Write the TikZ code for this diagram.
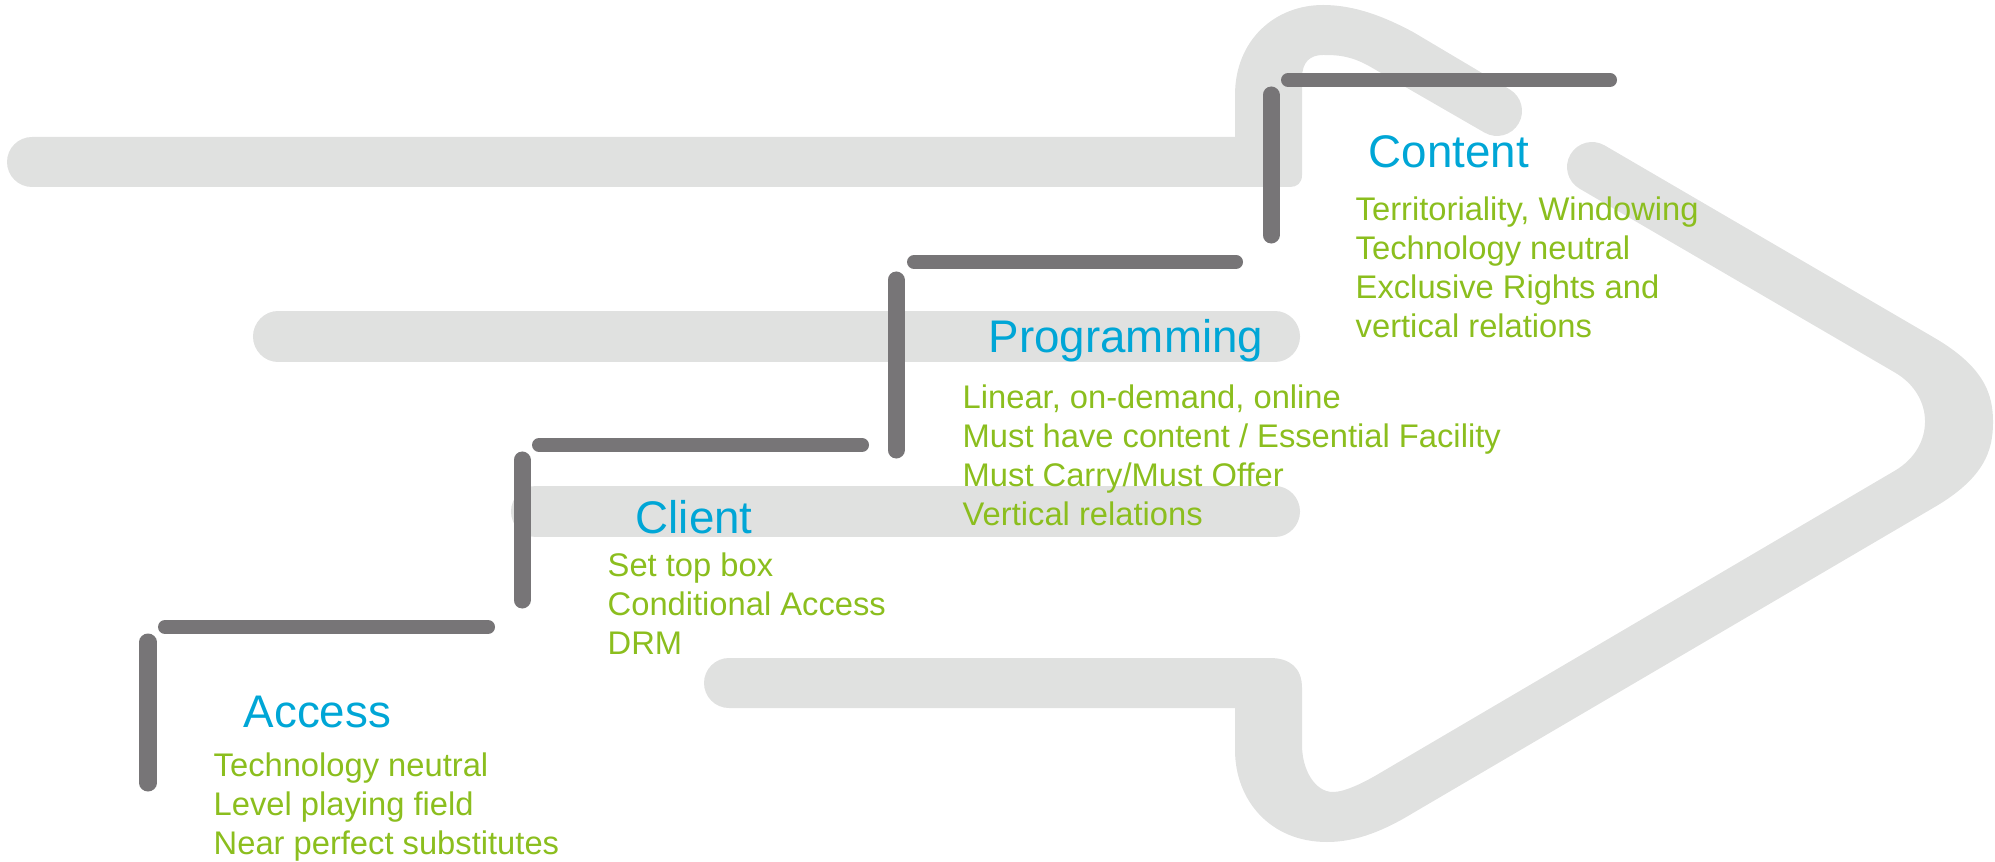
\documentclass[tikz,border=0pt]{standalone}
\usepackage{fontspec}
\setmainfont{Liberation Sans}
\definecolor{arrowgray}{RGB}{224,225,224}
\definecolor{stepgray}{RGB}{119,117,119}
\definecolor{titleblue}{RGB}{0,166,214}
\definecolor{itemgreen}{RGB}{139,190,30}

\begin{document}
\begin{tikzpicture}[x=0.01cm,y=-0.01cm,
  band/.style={fill=arrowgray},
  bar/.style={draw=arrowgray,line width=0.5cm,line cap=round},
  riser/.style={draw=stepgray,line width=0.17cm,line cap=round},
  tread/.style={draw=stepgray,line width=0.14cm,line cap=round},
  title/.style={anchor=base west,inner sep=0pt,text=titleblue,font=\fontsize{13}{15}\selectfont},
  items/.style={anchor=north west,inner sep=0pt,align=left,text=itemgreen,font=\fontsize{9.3}{11.1}\selectfont,
    execute at begin node=\strut}]
  \useasboundingbox (0,0) rectangle (1995,861);

  % grey arrow behind the stairs
  \fill [band] (32,137) -- (1235,137) -- (1235,95) .. controls (1235,40) and (1275,5) .. (1323,5)
    .. controls (1355,5) and (1385,17) .. (1413,32) -- (1509.5,89.3) arc [start angle=-60,end angle=120,radius=25]
    -- (1370,66.6) .. controls (1350,55) and (1335,55) .. (1323,55) .. controls (1310,55) and (1302,62) .. (1302,78)
    -- (1302,175) .. controls (1302,183) and (1297,187) .. (1290,187) -- (32,187) arc [start angle=90,end angle=270,radius=25] -- cycle;
  \fill [band] (1604.6,145.4) -- (1933,337) .. controls (1985,367) and (1993,395) .. (1993,422)
    .. controls (1993,450) and (1985,478) .. (1933,508) -- (1413,813) .. controls (1385,830) and (1357,842) .. (1327,842)
    .. controls (1270,842) and (1235,800) .. (1235,750) -- (1235,708) -- (729,708) arc [start angle=90,end angle=270,radius=25]
    -- (1270,658) .. controls (1290,658) and (1302,668) .. (1302,688) -- (1302,745)
    .. controls (1302,770) and (1315,792) .. (1333,792) .. controls (1345,792) and (1365,782) .. (1380,773)
    -- (1895,470.6) .. controls (1935,447) and (1935,396) .. (1895,372.6) -- (1579.4,188.6) arc [start angle=120.3,end angle=300.3,radius=25] -- cycle;
  \draw [bar] (278,336.5) -- (1275,336.5);
  \draw [bar] (536,511.5) -- (1275,511.5);

  % stairs
  \draw [riser] (148,642) -- (148,783);
  \draw [tread] (165,627) -- (488,627);
  \draw [riser] (522,460) -- (522,600);
  \draw [tread] (539,445) -- (862,445);
  \draw [riser] (896,280) -- (896,450);
  \draw [tread] (914,262) -- (1236,262);
  \draw [riser] (1271,95) -- (1271,235);
  \draw [tread] (1288,80) -- (1610,80);

  % labels
  \node (access) at (243,727) [title] {Access} ;
  \node (accessitems) at (213,752) [items] {Technology neutral\\Level playing field\\Near perfect substitutes} ;
  \node (client) at (635,533) [title] {Client} ;
  \node (clientitems) at (607,552) [items] {Set top box\\Conditional Access\\DRM} ;
  \node (programming) at (988,352) [title] {Programming} ;
  \node (programmingitems) at (962,384) [items] {Linear, on-demand, online\\Must have content / Essential Facility\\Must Carry/Must Offer\\Vertical relations} ;
  \node (content) at (1368,168) [title] {Content} ;
  \node (contentitems) at (1355,196) [items] {Territoriality, Windowing\\Technology neutral\\Exclusive Rights and\\vertical relations} ;
\end{tikzpicture}
\end{document}
